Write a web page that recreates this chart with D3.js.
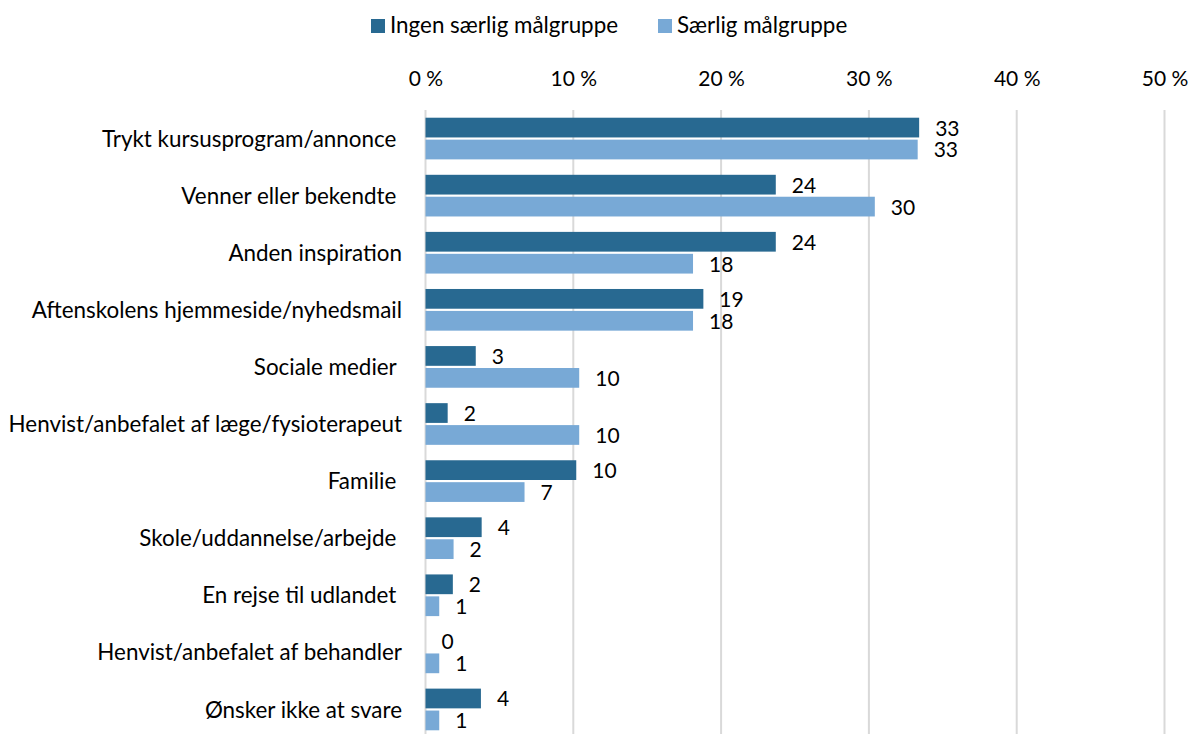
<!DOCTYPE html>
<html>
<head>
<meta charset="utf-8">
<script src="https://cdn.jsdelivr.net/npm/d3@7/dist/d3.min.js"></script>
<style>
  html, body { margin: 0; padding: 0; background: #fff; }
  svg text { font-family: Lato, "Open Sans", sans-serif; fill: #000; white-space: pre; }
</style>
</head>
<body>
<svg id="chart" width="1190" height="734"></svg>
<script>
// Categories (some keep a trailing space, as in the source labels)
const categories = [
  "Trykt kursusprogram/annonce ",
  "Venner eller bekendte ",
  "Anden inspiration",
  "Aftenskolens hjemmeside/nyhedsmail",
  "Sociale medier ",
  "Henvist/anbefalet af læge/fysioterapeut",
  "Familie ",
  "Skole/uddannelse/arbejde ",
  "En rejse til udlandet ",
  "Henvist/anbefalet af behandler",
  "Ønsker ikke at svare"
];
const seriesNames = ["Ingen særlig målgruppe", "Særlig målgruppe"];
// Percentages per category
const ingenSaerlig = [33.4, 23.7, 23.7, 18.8, 3.4, 1.5, 10.2, 3.8, 1.85, 0, 3.75];
const saerlig      = [33.3, 30.4, 18.1, 18.1, 10.4, 10.4, 6.7, 1.9, 0.93, 0.93, 0.93];
const tickValues = [0, 10, 20, 30, 40, 50];
const colors = ["#286991", "#78a9d6"];

const svg = d3.select("#chart");
const labelSize = 22.4;
const valueSize = 21;
const tickSize = 21;

const x = d3.scaleLinear().domain([0, 50]).range([425.5, 1164.5]);
const y = d3.scaleBand().domain(categories).range([110, 738]).paddingInner(0.27).paddingOuter(0.135);
const ySub = d3.scaleBand().domain([0, 1]).range([0, y.bandwidth()]).paddingInner(0.1);

// Gridlines
svg.append("g")
  .selectAll("line")
  .data(tickValues)
  .join("line")
  .attr("x1", d => x(d)).attr("x2", d => x(d))
  .attr("y1", 110).attr("y2", 734)
  .attr("stroke", "#d9d9d9").attr("stroke-width", 2);

// Top axis labels
const axis = d3.axisTop(x).tickValues(tickValues).tickSize(0).tickPadding(0)
  .tickFormat(d => d + " %");
const gAxis = svg.append("g").attr("transform", "translate(0,86)").call(axis);
gAxis.select(".domain").remove();
gAxis.selectAll("text").attr("font-size", tickSize).attr("font-family", "Lato, sans-serif").attr("fill", "#000");

// Category labels
svg.append("g")
  .selectAll("text")
  .data(categories)
  .join("text")
  .attr("x", 402)
  .attr("y", d => y(d) + y.bandwidth() / 2)
  .attr("dy", "0.36em")
  .attr("text-anchor", "end")
  .attr("font-size", labelSize)
  .text(d => d);

// Bars and value labels
const series = [ingenSaerlig, saerlig];
series.forEach((vals, si) => {
  const g = svg.append("g");
  g.selectAll("rect")
    .data(vals)
    .join("rect")
    .attr("x", x(0))
    .attr("y", (d, i) => y(categories[i]) + ySub(si))
    .attr("width", d => x(d) - x(0))
    .attr("height", ySub.bandwidth())
    .attr("fill", colors[si]);
  g.selectAll("text")
    .data(vals)
    .join("text")
    .attr("x", d => x(d) + 16)
    .attr("y", (d, i) => y(categories[i]) + ySub(si) + ySub.bandwidth() / 2)
    .attr("dy", "0.38em")
    .attr("font-size", valueSize)
    .text(d => d3.format(".0f")(d));
});

// Legend
const legendItems = [
  { name: seriesNames[0], color: colors[0], x: 371 },
  { name: seriesNames[1], color: colors[1], x: 658 }
];
const lg = svg.append("g");
legendItems.forEach(it => {
  lg.append("rect").attr("x", it.x).attr("y", 19).attr("width", 14).attr("height", 14).attr("fill", it.color);
  lg.append("text").attr("x", it.x + 19).attr("y", 33)
    .attr("font-size", labelSize).text(it.name);
});
</script>
</body>
</html>
